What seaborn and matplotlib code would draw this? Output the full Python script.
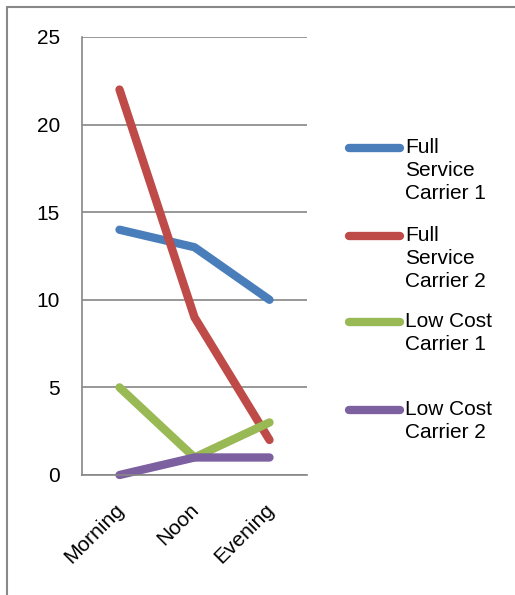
import numpy as np
import pandas as pd
import seaborn as sns
import matplotlib.pyplot as plt
import matplotlib.transforms as mtransforms
from matplotlib.lines import Line2D

times = ["Morning", "Noon", "Evening"]
carriers = ["Full Service Carrier 1", "Full Service Carrier 2",
            "Low Cost Carrier 1", "Low Cost Carrier 2"]
legend_labels = ["Full\nService\nCarrier 1", "Full\nService\nCarrier 2",
                 "Low Cost\nCarrier 1", "Low Cost\nCarrier 2"]
fsc1 = [14, 13, 10]
fsc2 = [22, 9, 2]
lcc1 = [5, 1, 3]
lcc2 = [0, 1, 1]
colors = ["#4A7EBB", "#BE4B48", "#98B954", "#7D60A0"]

rows = []
for name, vals in zip(carriers, [fsc1, fsc2, lcc1, lcc2]):
    for i, (t, v) in enumerate(zip(times, vals)):
        rows.append({"carrier": name, "time": t, "pos": i, "value": v})
df = pd.DataFrame(rows)

sns.set_style("white")
plt.rcParams["font.family"] = ["Liberation Sans", "DejaVu Sans"]
plt.rcParams["text.color"] = "black"
plt.rcParams["xtick.labelcolor"] = "black"
plt.rcParams["ytick.labelcolor"] = "black"

fig = plt.figure(figsize=(5.15, 5.95), dpi=100)
ax = fig.add_axes([82 / 515, 1 - 475 / 595, 225 / 515, 438 / 595])

sns.lineplot(data=df, x="pos", y="value", hue="carrier", hue_order=carriers,
             palette=colors, linewidth=6, legend=False, ax=ax,
             solid_capstyle="round", clip_on=False)

ax.set_xlim(-0.5, 2.5)
ax.set_ylim(0, 25)
ax.set_yticks([0, 5, 10, 15, 20, 25])
ax.set_xticks([0, 1, 2])
ax.set_xticklabels(times, rotation=45, ha="right", rotation_mode="anchor")
ax.set_xticks([-0.5, 0.5, 1.5, 2.5], minor=True)
ax.tick_params(axis="x", which="major", length=0, pad=18, labelsize=15)
ax.tick_params(axis="x", which="minor", length=5, color="#868686", width=1, direction="out")
ax.tick_params(axis="y", length=5, color="#868686", width=1, labelsize=15, pad=11)
offset = mtransforms.ScaledTranslation(-5 / 100, 0, fig.dpi_scale_trans)
for lbl in ax.get_xticklabels():
    lbl.set_transform(lbl.get_transform() + offset)
ax.set_xlabel("")
ax.set_ylabel("")
ax.yaxis.grid(True, color="#868686", linewidth=1.2)
ax.set_axisbelow(True)
for s in ["top", "right"]:
    ax.spines[s].set_visible(False)
for s in ["left", "bottom"]:
    ax.spines[s].set_color("#868686")
    ax.spines[s].set_linewidth(1.2)

# legend drawn by hand, Excel style (handle aligned with first text line)
leg_y = [148, 236, 322, 410]
for c, lab, y in zip(colors, legend_labels, leg_y):
    fy = 1 - y / 595
    fig.add_artist(Line2D([349 / 515, 400 / 515], [fy, fy], color=c, linewidth=6,
                          solid_capstyle="round"))
    fig.text(405 / 515, 1 - (y - 10) / 595, lab, fontsize=15, va="top", ha="left",
             linespacing=1.27)

# outer border (left and top)
fig.add_artist(Line2D([7 / 515, 7 / 515], [0, 1 - 7 / 595], color="#888888", linewidth=1.5))
fig.add_artist(Line2D([7 / 515, 1], [1 - 7 / 595, 1 - 7 / 595], color="#888888", linewidth=1.5))

fig.savefig("out.png", dpi=100)
